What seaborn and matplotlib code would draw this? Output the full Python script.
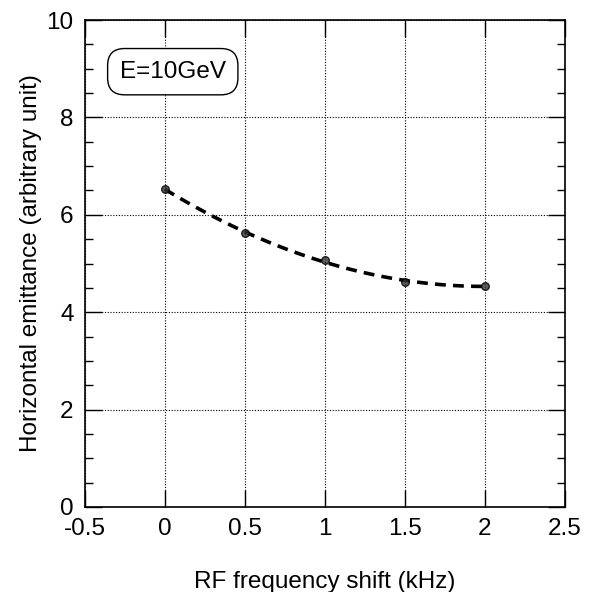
import matplotlib
matplotlib.use("Agg")
import matplotlib.pyplot as plt
import seaborn as sns
import pandas as pd
from matplotlib.ticker import MultipleLocator

shift_khz = [0.0, 0.5, 1.0, 1.5, 2.0]
emittance = [6.53, 5.63, 5.07, 4.62, 4.54]
x_tick_labels = ["-0.5", "0", "0.5", "1", "1.5", "2", "2.5"]
y_tick_labels = ["0", "2", "4", "6", "8", "10"]

sns.set_theme(style="white")
plt.rcParams['font.family'] = ['Liberation Sans', 'DejaVu Sans']

df = pd.DataFrame({"shift": shift_khz, "emit": emittance})

fig = plt.figure(figsize=(5.97, 5.92), dpi=100)
ax = fig.add_axes([0.142, 0.1436, 0.804, 0.8225])

sns.regplot(data=df, x="shift", y="emit", order=2, ci=None, ax=ax,
            scatter_kws=dict(s=30, color="#333333", edgecolor="black", linewidths=1.0, zorder=4),
            line_kws=dict(color="black", linestyle=(0, (3, 2)), linewidth=2.6, zorder=3))

ax.set_xlim(-0.5, 2.5)
ax.set_ylim(0, 10)
ax.set_xticks([float(t) for t in x_tick_labels])
ax.set_xticklabels(x_tick_labels)
ax.set_yticks([float(t) for t in y_tick_labels])
ax.set_yticklabels(y_tick_labels)
ax.yaxis.set_minor_locator(MultipleLocator(0.5))

ax.grid(True, which="major", linestyle=(0, (1, 1.5)), color="black", linewidth=0.8)
ax.tick_params(which="both", direction="in", top=True, right=True, bottom=True, left=True,
               labelsize=17.5, colors="black")
ax.tick_params(which="major", length=12, width=1.0, pad=8)
ax.tick_params(which="minor", length=6, width=1.0)
for s in ax.spines.values():
    s.set_visible(True)
    s.set_color("black")
    s.set_linewidth(1.2)

ax.set_xlabel("RF frequency shift (kHz)", fontsize=17.5, labelpad=22, color="black")
ax.set_ylabel("Horizontal emittance (arbitrary unit)", fontsize=17.5, labelpad=3, color="black")

ax.text(0.05, 8.94, "E=10GeV", fontsize=17.5, ha="center", va="center", color="black",
        bbox=dict(boxstyle="round,pad=0.5,rounding_size=0.7", facecolor="white",
                  edgecolor="black", linewidth=1.0))

fig.savefig("out.png", dpi=100)
